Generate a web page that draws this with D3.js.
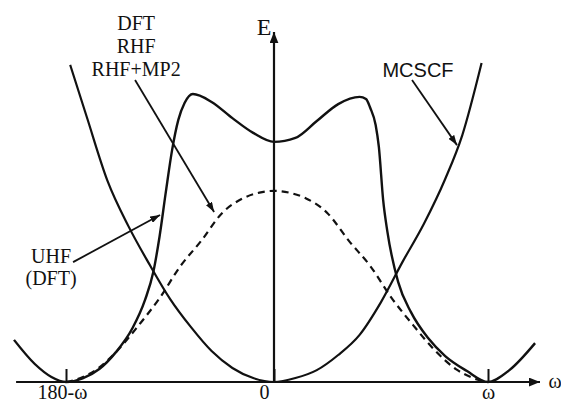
<!DOCTYPE html>
<meta charset="utf-8">
<title>Energy vs torsion angle</title>
<style>
  body { margin: 0; background: #fff; }
  text { fill: #111; }
</style>
<body>
<script src="https://cdn.jsdelivr.net/npm/d3@7"></script>
<script>
    var width = 561,
        height = 405;

    // x: torsion coordinate, -1 = 180-ω, 0 = 0, 1 = ω ; E in arbitrary units
    var tickValues = [-1, 0, 1];
    var tickLabels = ["180-\u03c9", "0", "\u03c9"];

    // MCSCF (single well centred at 0)
    var mcscf = [[-0.98, 8.81], [-0.90, 7.36], [-0.80, 5.58], [-0.70, 4.33], [-0.60, 3.28],
                 [-0.50, 2.31], [-0.40, 1.53], [-0.30, 0.86], [-0.20, 0.39], [-0.10, 0.11],
                 [0, 0], [0.10, 0.11], [0.20, 0.33], [0.30, 0.75], [0.40, 1.31], [0.50, 2.22],
                 [0.60, 3.33], [0.70, 4.39], [0.80, 5.64], [0.88, 6.86], [0.97, 8.86]];

    // UHF (DFT): wells at 180-ω and ω, barrier with a dip at 0
    var uhf = [[-1.25, 1.17], [-1.15, 0.50], [-1.07, 0.14], [-1.0, 0], [-0.92, 0.10],
               [-0.84, 0.36], [-0.76, 0.83], [-0.68, 1.50], [-0.62, 2.28], [-0.58, 3.06],
               [-0.55, 4.05], [-0.52, 5.28], [-0.49, 6.44], [-0.46, 7.28], [-0.43, 7.75],
               [-0.39, 8.0], [-0.30, 7.78], [-0.20, 7.33], [-0.10, 6.92], [0, 6.67],
               [0.10, 6.78], [0.20, 7.25], [0.30, 7.72], [0.40, 7.92], [0.43, 7.86],
               [0.45, 7.61], [0.475, 7.14], [0.49, 6.53], [0.51, 5.06], [0.53, 4.17],
               [0.58, 2.78], [0.64, 1.94], [0.72, 1.22], [0.80, 0.72], [0.90, 0.31],
               [1.0, 0], [1.10, 0.33], [1.22, 1.08]];

    // DFT / RHF / RHF+MP2 (dashed)
    var rhf = [[-1, 0], [-0.93, 0.11], [-0.85, 0.36], [-0.75, 0.89], [-0.65, 1.58],
               [-0.55, 2.33], [-0.45, 3.22], [-0.35, 3.92], [-0.25, 4.69], [-0.15, 5.10],
               [-0.07, 5.26], [0, 5.31], [0.07, 5.26], [0.15, 5.10], [0.25, 4.69], [0.35, 3.92],
               [0.45, 3.22], [0.55, 2.33], [0.65, 1.58], [0.75, 0.89], [0.85, 0.36],
               [0.93, 0.11], [1, 0]];

    // labels with arrows: text lines, text position, arrow start, arrow end
    var notes = [
        {lines: ["DFT", "RHF", "RHF+MP2"], x: -0.663, y: 9.78, dy: 23, font: "Liberation Serif, Times New Roman, serif",
         from: [-0.668, 8.39], to: [-0.288, 4.72]},
        {lines: ["MCSCF"], x: 0.673, y: 8.47, dy: 0, font: "Liberation Sans, Arial, sans-serif",
         from: [0.645, 8.39], to: [0.855, 6.58]},
        {lines: ["UHF", "(DFT)"], x: -1.072, y: 3.31, dy: 22, font: "Liberation Serif, Times New Roman, serif",
         from: [-0.966, 3.33], to: [-0.548, 4.64]}
    ];

    var x = d3.scaleLinear()
        .domain([-1, 0, 1])
        .range([66, 274, 488]);

    var y = d3.scaleLinear()
        .domain([0, 10])
        .range([382, 22]);

    var svg = d3.select("body").append("svg")
        .attr("width", width)
        .attr("height", height);

    var defs = svg.append("defs");
    defs.append("marker")
        .attr("id", "head")
        .attr("viewBox", "0 0 10 7")
        .attr("refX", 10).attr("refY", 3.5)
        .attr("markerWidth", 10).attr("markerHeight", 7)
        .attr("markerUnits", "userSpaceOnUse")
        .attr("orient", "auto")
        .append("path").attr("d", "M0,0L10,3.5L0,7Z").attr("fill", "#111");
    defs.append("marker")
        .attr("id", "axhead")
        .attr("viewBox", "0 0 10 8")
        .attr("refX", 10).attr("refY", 4)
        .attr("markerWidth", 11).attr("markerHeight", 9)
        .attr("markerUnits", "userSpaceOnUse")
        .attr("orient", "auto")
        .append("path").attr("d", "M0,0L10,4L0,8Z").attr("fill", "#111");

    // axes lines with arrows
    svg.append("line")
        .attr("x1", x(-1.24)).attr("x2", x(1.243))
        .attr("y1", y(0)).attr("y2", y(0))
        .attr("stroke", "#111").attr("stroke-width", 2.2)
        .attr("marker-end", "url(#axhead)");
    svg.append("line")
        .attr("x1", x(0)).attr("x2", x(0))
        .attr("y1", y(0)).attr("y2", y(9.72))
        .attr("stroke", "#111").attr("stroke-width", 2.2)
        .attr("marker-end", "url(#axhead)");

    var xAxis = d3.axisBottom(x)
        .tickValues(tickValues)
        .tickSize(-13)
        .tickPadding(3)
        .tickFormat((d, i) => tickLabels[i]);

    var gx = svg.append("g")
        .attr("transform", `translate(0,${y(0)})`)
        .call(xAxis);
    gx.select(".domain").remove();
    gx.selectAll(".tick line").attr("stroke", "#111").attr("stroke-width", 2);
    gx.selectAll(".tick text")
        .attr("font-family", "Liberation Serif, Times New Roman, serif")
        .attr("font-size", 20)
        .attr("fill", "#111")
        .attr("dx", (d) => d === 0 ? -10 : (d < 0 ? -4 : 0));

    svg.append("text")
        .attr("x", x(0) - 10).attr("y", 35)
        .attr("text-anchor", "middle")
        .attr("font-family", "Liberation Serif, Times New Roman, serif")
        .attr("font-size", 24)
        .text("E");
    svg.append("text")
        .attr("x", 555).attr("y", y(0) + 6)
        .attr("text-anchor", "middle")
        .attr("font-family", "Liberation Serif, Times New Roman, serif")
        .attr("font-size", 20)
        .text("\u03c9");

    var line = d3.line()
        .x(d => x(d[0]))
        .y(d => y(d[1]))
        .curve(d3.curveMonotoneX);

    svg.append("path")
        .datum(mcscf)
        .attr("d", line)
        .attr("fill", "none").attr("stroke", "#111").attr("stroke-width", 2.2);
    svg.append("path")
        .datum(uhf)
        .attr("d", line)
        .attr("fill", "none").attr("stroke", "#111").attr("stroke-width", 2.4);
    svg.append("path")
        .datum(rhf)
        .attr("d", line)
        .attr("fill", "none").attr("stroke", "#111").attr("stroke-width", 2.2)
        .attr("stroke-dasharray", "7,5");

    // annotations
    notes.forEach(function(n) {
        var t = svg.append("text")
            .attr("text-anchor", "middle")
            .attr("font-family", n.font)
            .attr("font-size", 20);
        n.lines.forEach(function(s, i) {
            t.append("tspan")
                .attr("x", x(n.x))
                .attr("y", y(n.y) + i * n.dy)
                .text(s);
        });
        svg.append("line")
            .attr("x1", x(n.from[0])).attr("y1", y(n.from[1]))
            .attr("x2", x(n.to[0])).attr("y2", y(n.to[1]))
            .attr("stroke", "#111").attr("stroke-width", 1.8)
            .attr("marker-end", "url(#head)");
    });
</script>
</body>
